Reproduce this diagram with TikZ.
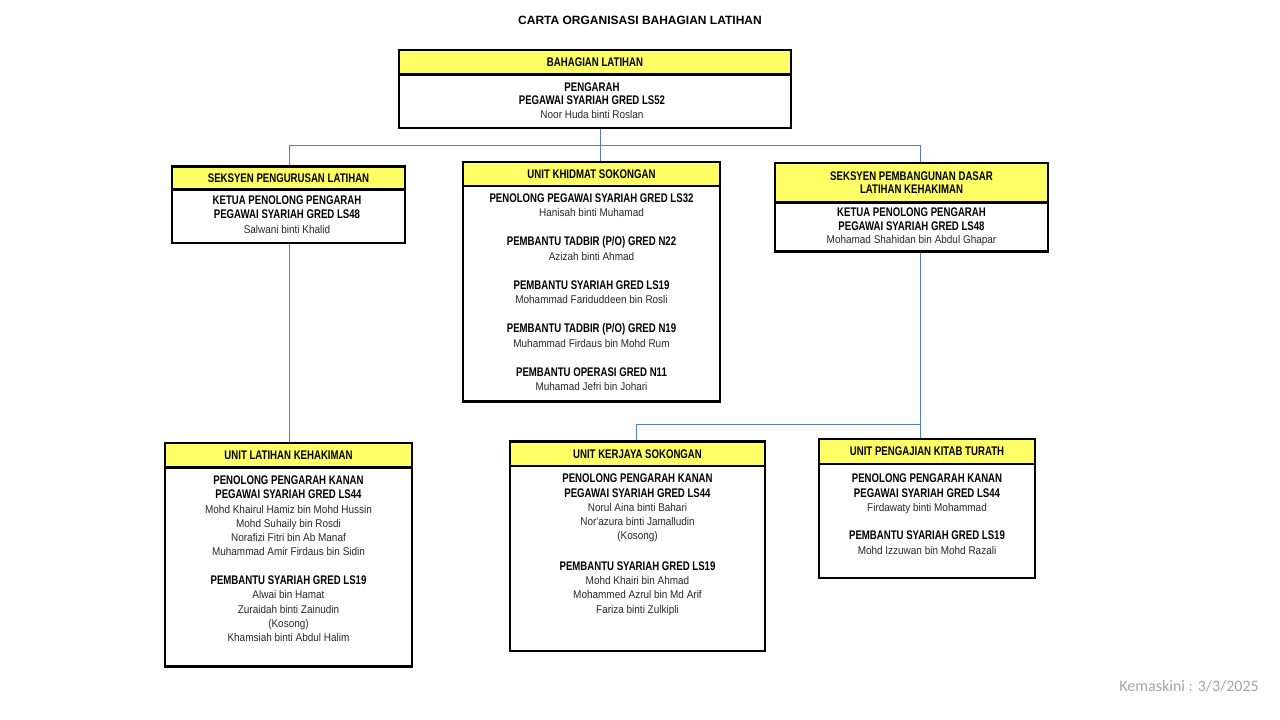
\documentclass[tikz,border=0pt]{standalone}
\usepackage{fontspec}
\setmainfont{Liberation Sans}
\newfontfamily\cond{Liberation Sans}[FakeStretch=0.77]
\newfontfamily\condR{Liberation Sans}[FakeStretch=0.89]
\newfontfamily\calib{Carlito}
\usetikzlibrary{backgrounds}
\definecolor{hdryellow}{RGB}{255,255,102}
\definecolor{connblue}{RGB}{79,129,189}
\definecolor{namegray}{RGB}{40,40,40}
\definecolor{stampgray}{RGB}{166,166,166}
\newcommand{\jw}[1]{{\fontsize{12.5}{14.3}\selectfont\cond\bfseries #1}}
\newcommand{\nm}[1]{{\fontsize{11.2}{14.3}\selectfont\condR\color{namegray}#1}}
\tikzset{
  box/.style={draw=black, line width=2.4pt, rectangle, inner sep=0pt, outer sep=0pt},
  hdr/.style={box, fill=hdryellow, font=\fontsize{12.5}{12.7}\selectfont\cond\bfseries, align=center},
  bodybox/.style={box, fill=white},
  txt/.style={anchor=north, inner sep=0pt, align=center, font=\fontsize{11}{14.3}\selectfont},
  conn/.style={draw=connblue, line width=0.9pt}
}
\begin{document}
\begin{tikzpicture}[x=1pt,y=-1pt]
\useasboundingbox (0,0) rectangle (1280,720);

\node[font=\fontsize{12}{14}\selectfont\bfseries] (title) at (640,20) {CARTA ORGANISASI BAHAGIAN LATIHAN};

% top
\node[bodybox, minimum width=392pt, minimum height=53.5pt] (topB) at (595,101.25) {};
\node[hdr, minimum width=392pt, minimum height=24.5pt] (topH) at (595,62.25) {BAHAGIAN LATIHAN};
\node[txt, font=\fontsize{11}{13.5}\selectfont] (topT) at (592,82.5) {\jw{PENGARAH}\\\jw{PEGAWAI SYARIAH GRED LS52}\\\nm{Noor Huda binti Roslan}};

% left
\node[bodybox, minimum width=233pt, minimum height=53.5pt] (leftB) at (288.5,216.25) {};
\node[hdr, minimum width=233pt, minimum height=23pt] (leftH) at (288.5,178) {SEKSYEN PENGURUSAN LATIHAN};
\node[txt] (leftT) at (287,195.5) {\jw{KETUA PENOLONG PENGARAH}\\\jw{PEGAWAI SYARIAH GRED LS48}\\\nm{Salwani binti Khalid}};

% middle
\node[bodybox, minimum width=257pt, minimum height=215.5pt] (midB) at (591.5,293.75) {};
\node[hdr, minimum width=257pt, minimum height=24pt] (midH) at (591.5,174) {UNIT KHIDMAT SOKONGAN};
\node[txt, font=\fontsize{11}{14.5}\selectfont] (midT) at (591.5,193.5) {\jw{PENOLONG PEGAWAI SYARIAH GRED LS32}\\\nm{Hanisah binti Muhamad}\\[14.5pt]
\jw{PEMBANTU TADBIR (P/O) GRED N22}\\\nm{Azizah binti Ahmad}\\[14.5pt]
\jw{PEMBANTU SYARIAH GRED LS19}\\\nm{Mohammad Fariduddeen bin Rosli}\\[14.5pt]
\jw{PEMBANTU TADBIR (P/O) GRED N19}\\\nm{Muhammad Firdaus bin Mohd Rum}\\[14.5pt]
\jw{PEMBANTU OPERASI GRED N11}\\\nm{Muhamad Jefri bin Johari}};

% right
\node[bodybox, minimum width=273pt, minimum height=49pt] (rightB) at (911.5,227) {};
\node[hdr, minimum width=273pt, minimum height=39.5pt] (rightH) at (911.5,182.75) {SEKSYEN PEMBANGUNAN DASAR\\LATIHAN KEHAKIMAN};
\node[txt, font=\fontsize{11}{13.5}\selectfont] (rightT) at (911.5,207.6) {\jw{KETUA PENOLONG PENGARAH}\\\jw{PEGAWAI SYARIAH GRED LS48}\\\nm{Mohamad Shahidan bin Abdul Ghapar}};

% left bottom
\node[bodybox, minimum width=247pt, minimum height=199pt] (lbB) at (288.5,567) {};
\node[hdr, minimum width=247pt, minimum height=24.5pt] (lbH) at (288.5,455.25) {UNIT LATIHAN KEHAKIMAN};
\node[txt] (lbT) at (288.5,475.5) {\jw{PENOLONG PENGARAH KANAN}\\\jw{PEGAWAI SYARIAH GRED LS44}\\\nm{Mohd Khairul Hamiz bin Mohd Hussin}\\\nm{Mohd Suhaily bin Rosdi}\\\nm{Norafizi Fitri bin Ab Manaf}\\\nm{Muhammad Amir Firdaus bin Sidin}\\[14.3pt]
\jw{PEMBANTU SYARIAH GRED LS19}\\\nm{Alwai bin Hamat}\\\nm{Zuraidah binti Zainudin}\\\nm{(Kosong)}\\\nm{Khamsiah binti Abdul Halim}};

% middle bottom
\node[bodybox, minimum width=255pt, minimum height=185pt] (mbB) at (637.5,558.5) {};
\node[hdr, minimum width=255pt, minimum height=24.5pt] (mbH) at (637.5,453.75) {UNIT KERJAYA SOKONGAN};
\node[txt] (mbT) at (637.5,473.8) {\jw{PENOLONG PENGARAH KANAN}\\\jw{PEGAWAI SYARIAH GRED LS44}\\\nm{Norul Aina binti Bahari}\\\nm{Nor'azura binti Jamalludin}\\\nm{(Kosong)}\\[16pt]
\jw{PEMBANTU SYARIAH GRED LS19}\\\nm{Mohd Khairi bin Ahmad}\\\nm{Mohammed Azrul bin Md Arif}\\\nm{Fariza binti Zulkipli}};

% right bottom
\node[bodybox, minimum width=216pt, minimum height=114pt] (rbB) at (927,521) {};
\node[hdr, minimum width=216pt, minimum height=25pt] (rbH) at (927,451.5) {UNIT PENGAJIAN KITAB TURATH};
\node[txt] (rbT) at (927,473.8) {\jw{PENOLONG PENGARAH KANAN}\\\jw{PEGAWAI SYARIAH GRED LS44}\\\nm{Firdawaty binti Mohammad}\\[14.3pt]
\jw{PEMBANTU SYARIAH GRED LS19}\\\nm{Mohd Izzuwan bin Mohd Razali}};

% connectors
\coordinate (jTop) at (600,145);
\coordinate (jL) at (289,145);
\coordinate (jR) at (920,145);
\coordinate (jLow) at (920,424);
\coordinate (jMid) at (636,424);
\begin{scope}[on background layer]
\path[fill=white] (0,0) rectangle (1280,720);
\draw[conn] (topB.south -| jTop) -- (jTop |- midH.north);
\draw[conn] (jL) -- (jR);
\draw[conn] (jL) -- (jL |- leftH.north);
\draw[conn] (jR) -- (jR |- rightH.north);
\draw[conn] (leftB.south -| jL) -- (jL |- lbH.north);
\draw[conn] (rightB.south -| jR) -- (jR |- rbH.north);
\draw[conn] (jMid) -- (jLow);
\draw[conn] (jMid) -- (jMid |- mbH.north);
\end{scope}

\node[anchor=east, inner sep=0pt, font=\fontsize{16}{18}\selectfont\calib, text=stampgray] (stamp) at (1259,686) {Kemaskini : 3/3/2025};
\end{tikzpicture}
\end{document}
